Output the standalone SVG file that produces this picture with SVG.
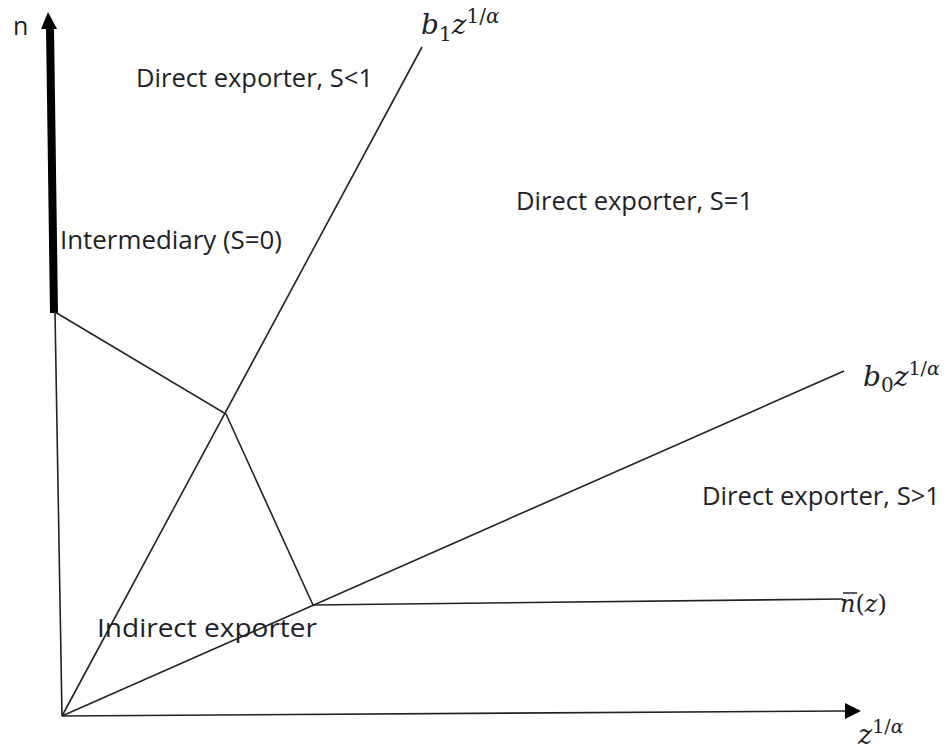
<svg xmlns="http://www.w3.org/2000/svg" width="950" height="749" viewBox="0 0 950 749">
<style>
.ln{stroke:#222;stroke-width:1.6;fill:none}
.lbl{font-family:"Open Sans","Liberation Sans",sans-serif;font-size:25px;fill:#1e1e28}
.math{font-family:"DejaVu Serif","Liberation Serif",serif;font-style:italic;fill:#1e1e28}
.up{font-style:normal}
</style>
<rect width="950" height="749" fill="#fff"/>
<g id="axes">
<line x1="50" y1="26" x2="54" y2="313" stroke="#000" stroke-width="8"/>
<polygon points="48,12 41,29 57,29" fill="#000"/>
<line class="ln" x1="55" y1="312" x2="62" y2="716"/>
<line class="ln" x1="62" y1="716" x2="846" y2="711"/>
<polygon points="861,711 845,703 845,719" fill="#000"/>
</g>
<g id="connectors">
<line class="ln" x1="62" y1="716" x2="422" y2="47"/>
<line class="ln" x1="62" y1="716" x2="844" y2="371"/>
<polyline class="ln" points="55,312 226,414 313,605"/>
<line class="ln" x1="313" y1="605" x2="843" y2="599"/>
</g>
<g id="labels">
<text class="lbl" x="13" y="35" font-size="22">n</text>
<text class="lbl" x="136" y="87" textLength="237" lengthAdjust="spacingAndGlyphs">Direct exporter, S&lt;1</text>
<text class="lbl" x="516" y="210" textLength="237" lengthAdjust="spacingAndGlyphs">Direct exporter, S=1</text>
<text class="lbl" x="60" y="249" textLength="222" lengthAdjust="spacingAndGlyphs">Intermediary (S=0)</text>
<text class="lbl" x="702" y="505" textLength="238" lengthAdjust="spacingAndGlyphs">Direct exporter, S&gt;1</text>
<text class="lbl" x="97" y="637" textLength="220" lengthAdjust="spacingAndGlyphs">Indirect exporter</text>
<text class="math" x="421" y="34" font-size="28">b<tspan class="up" font-size="20" dy="7">1</tspan><tspan dy="-7">z</tspan><tspan class="up" font-size="20" dy="-11">1/</tspan><tspan font-size="20">α</tspan></text>
<text class="math" x="863" y="386" font-size="28">b<tspan class="up" font-size="20" dy="6">0</tspan><tspan dy="-6">z</tspan><tspan class="up" font-size="19" dy="-11">1/</tspan><tspan font-size="19">α</tspan></text>
<text class="math" x="840" y="612" font-size="24">n<tspan class="up">(</tspan>z<tspan class="up">)</tspan></text>
<line x1="843" y1="593" x2="857" y2="593" stroke="#1e1e28" stroke-width="1.5"/>
<text class="math" x="858" y="744" font-size="27">z<tspan class="up" font-size="19" dy="-11">1/</tspan><tspan font-size="19">α</tspan></text>
</g>
</svg>
